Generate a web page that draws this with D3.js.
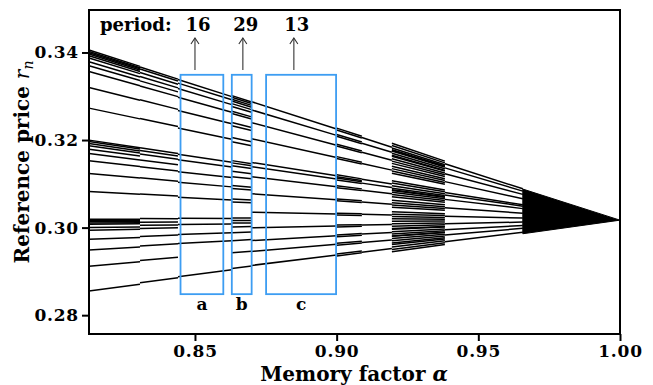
<!DOCTYPE html>
<html><head><meta charset="utf-8">
<script src="https://cdn.jsdelivr.net/npm/d3@7"></script>
<style>body{margin:0;background:#fff}svg{display:block}</style>
</head><body>
<svg id="c" width="653" height="385"></svg>
<script>
// ---- data ----
const xTicks = [0.85, 0.90, 0.95, 1.00];
const yTicks = [0.28, 0.30, 0.32, 0.34];
const fixedPoint = 0.3017;      // value every branch converges to at alpha = 1
const alphaLeft = 0.8126;       // left edge of the plotted range
// alpha windows of the orbit branches
const windowStart = [0.8126, 0.8306, 0.8440, 0.8630, 0.8700, 0.9000, 0.9089, 0.9195, 0.9382];
const windowEnd   = [0.8306, 0.8440, 0.8630, 0.8700, 0.9000, 0.9089, 0.9195, 0.9382, 0.9657];
// orbit branch levels (value of each branch extrapolated to the left edge)
const levels0 = [0.34055, 0.34023, 0.33994, 0.33964, 0.33925, 0.33872, 0.33788, 0.33697, 0.33566, 0.33200, 0.32729,
  0.31998, 0.31966, 0.31920, 0.31868, 0.31792, 0.31692, 0.31525, 0.31234, 0.30823,
  0.30192, 0.30169, 0.30137, 0.30107, 0.30078, 0.30000, 0.29941, 0.29735, 0.29490, 0.29118, 0.28553];
const levels1 = [0.3404, 0.3399, 0.3390, 0.3380, 0.3369, 0.3356, 0.3321, 0.3274, 0.3200, 0.3193, 0.3184, 0.3169,
  0.3152, 0.3124, 0.3083, 0.3021, 0.3012, 0.3004, 0.2996, 0.2976, 0.2952, 0.2915, 0.2859];
const levels2 = [0.3403, 0.3393, 0.3378, 0.3354, 0.3318, 0.3270, 0.3198, 0.3183, 0.3150, 0.3121, 0.3080,
  0.3022, 0.3005, 0.2978, 0.2953, 0.2862];
const levels3 = [0.3406, 0.3401, 0.3395, 0.3389, 0.3381, 0.3372, 0.3357, 0.3350, 0.3322, 0.3312, 0.3275, 0.3262,
  0.3203, 0.3196, 0.3187, 0.3170, 0.3153, 0.3125, 0.3116, 0.3083, 0.3074, 0.3024, 0.3016, 0.3008, 0.2996,
  0.2978, 0.2953, 0.2915, 0.2866];
const levels4 = [0.3407, 0.3380, 0.3338, 0.3285, 0.3207, 0.3193, 0.3160, 0.3104, 0.3043, 0.2992, 0.2950, 0.2914, 0.2868];
const levels5 = [0.3411, 0.3403, 0.3384, 0.3376, 0.3342, 0.3334, 0.3289, 0.3281, 0.3211, 0.3203, 0.3197, 0.3189,
  0.3164, 0.3156, 0.3108, 0.3100, 0.3047, 0.3039, 0.2996, 0.2988, 0.2954, 0.2946, 0.2918, 0.2910, 0.2872, 0.2864];
const levels6 = [0.3405, 0.3378, 0.3336, 0.3283, 0.3209, 0.3191, 0.3158, 0.3102, 0.3045, 0.2994, 0.2952, 0.2912, 0.2866];
const levels7 = [0.3426, 0.3414, 0.3401, 0.3389, 0.3392, 0.3385, 0.3373, 0.3362, 0.3357, 0.3344, 0.3331, 0.3319,
  0.3304, 0.3291, 0.3278, 0.3266, 0.3226, 0.3214, 0.3200, 0.3187, 0.3175, 0.3179, 0.3166, 0.3153, 0.3141,
  0.3123, 0.3110, 0.3097, 0.3085, 0.3062, 0.3049, 0.3036, 0.3024, 0.3011, 0.2998, 0.2985, 0.2973,
  0.2969, 0.2956, 0.2943, 0.2931, 0.2933, 0.2920, 0.2907, 0.2895, 0.2887, 0.2874, 0.2861, 0.2849];
const levels8 = [0.3408, 0.3379, 0.3339, 0.3284, 0.3208, 0.3192, 0.3161, 0.3103, 0.3044, 0.2993, 0.2951, 0.2915, 0.2867];
// dense (quasi-periodic) fan near alpha = 1
const fanAlpha = [0.9657, 1.0];
const fanTop = [0.3088, 0.3017];
const fanBottom = [0.2986, 0.3017];
// highlighted windows
const boxLabels = ['a', 'b', 'c'];
const boxStart = [0.8449, 0.8630, 0.8751];
const boxEnd = [0.8600, 0.8700, 0.8998];
const boxTop = 0.3349, boxBottom = 0.2848;
const periods = ['16', '29', '13'];
const arrowAlpha = [0.8500, 0.8669, 0.8849];
const arrowFrom = 0.3360, arrowTo = 0.3433;

// ---- drawing ----
const x = d3.scaleLinear([alphaLeft, 1.0], [89, 620]);
const y = d3.scaleLinear([0.2757, 0.3497], [334, 10]);
const svg = d3.select('#c');
const FONT = '"DejaVu Serif", serif';

const levelSets = [levels0, levels1, levels2, levels3, levels4, levels5, levels6, levels7, levels8];
const branch = (L, a) => fixedPoint + (L - fixedPoint) * (1 - a) / (1 - alphaLeft);
const segs = [];
levelSets.forEach((set, w) => set.forEach(L => segs.push({a0: windowStart[w], a1: windowEnd[w], L})));

svg.append('g').selectAll('line').data(segs).join('line')
  .attr('x1', d => x(d.a0)).attr('x2', d => x(d.a1))
  .attr('y1', d => y(branch(d.L, d.a0))).attr('y2', d => y(branch(d.L, d.a1)))
  .attr('stroke', '#000').attr('stroke-width', 1.5);

const fanPts = [[fanAlpha[0], fanTop[0]], [fanAlpha[1], fanTop[1]], [fanAlpha[0], fanBottom[0]]];
svg.append('path')
  .attr('d', d3.line().x(d => x(d[0])).y(d => y(d[1]))(fanPts) + 'Z')
  .attr('fill', '#000').attr('stroke', '#000').attr('stroke-width', 1);

// boxes
const boxG = svg.append('g');
boxStart.forEach((s, i) => {
  boxG.append('rect').attr('x', x(s)).attr('y', y(boxTop))
    .attr('width', x(boxEnd[i]) - x(s)).attr('height', y(boxBottom) - y(boxTop))
    .attr('fill', 'none').attr('stroke', '#3d9df2').attr('stroke-width', 1.8);
  boxG.append('text').attr('x', (x(s) + x(boxEnd[i])) / 2).attr('y', 310)
    .attr('text-anchor', 'middle').attr('font-family', FONT).attr('font-weight', 'bold')
    .attr('font-size', 17).text(boxLabels[i]);
});

// arrows and period labels
arrowAlpha.forEach((a, i) => {
  const ax = x(a);
  svg.append('line').attr('x1', ax).attr('x2', ax).attr('y1', y(arrowFrom)).attr('y2', y(arrowTo))
    .attr('stroke', '#333').attr('stroke-width', 1.1);
  svg.append('path').attr('d', `M${ax - 4},${y(arrowTo) + 6} L${ax},${y(arrowTo)} L${ax + 4},${y(arrowTo) + 6}`)
    .attr('fill', 'none').attr('stroke', '#333').attr('stroke-width', 1.1);
  svg.append('text').attr('x', ax + 3).attr('y', 31).attr('text-anchor', 'middle')
    .attr('font-family', FONT).attr('font-weight', 'bold').attr('font-size', 18).text(periods[i]);
});
svg.append('text').attr('x', 100).attr('y', 31).attr('font-family', FONT).attr('font-weight', 'bold')
  .attr('font-size', 18).text('period:');

// axes
const xAxis = svg.append('g').attr('transform', 'translate(0,334)')
  .call(d3.axisBottom(x).tickValues(xTicks).tickFormat(d3.format('.2f')).tickSize(7).tickPadding(4));
const yAxis = svg.append('g').attr('transform', 'translate(89,0)')
  .call(d3.axisLeft(y).tickValues(yTicks).tickFormat(d3.format('.2f')).tickSize(7).tickPadding(3));
[xAxis, yAxis].forEach(g => {
  g.select('.domain').remove();
  g.selectAll('.tick line').attr('stroke', '#000').attr('stroke-width', 2);
  g.selectAll('.tick text').attr('font-family', FONT).attr('font-weight', 'bold')
    .attr('font-size', 17).attr('letter-spacing', '0.8px').attr('fill', '#000');
});

// frame
svg.append('rect').attr('x', 89).attr('y', 10).attr('width', 531).attr('height', 324)
  .attr('fill', 'none').attr('stroke', '#000').attr('stroke-width', 2);

// titles
const xt = svg.append('text').attr('x', 354).attr('y', 381).attr('text-anchor', 'middle')
  .attr('font-family', FONT).attr('font-weight', 'bold').attr('font-size', 20);
xt.append('tspan').text('Memory factor ');
xt.append('tspan').attr('font-style', 'italic').text('α');

const yt = svg.append('text').attr('transform', 'translate(29,162) rotate(-90)').attr('text-anchor', 'middle')
  .attr('font-family', FONT).attr('font-weight', 'bold').attr('font-size', 20);
yt.append('tspan').text('Reference price ');
yt.append('tspan').attr('font-style', 'italic').attr('font-weight', 'normal').text('r');
yt.append('tspan').attr('font-style', 'italic').attr('font-weight', 'normal').attr('font-size', 14).attr('dy', 4).text('n');
</script>
</body></html>
